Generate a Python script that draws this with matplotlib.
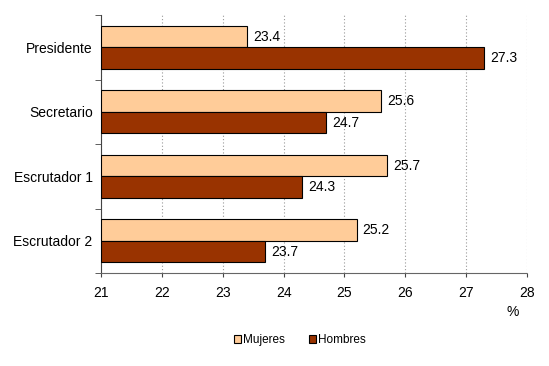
import numpy as np
import matplotlib.pyplot as plt

plt.rcParams['font.family'] = ['Liberation Sans', 'DejaVu Sans']
plt.rcParams['hatch.linewidth'] = 0.5

categorias = ["Presidente", "Secretario", "Escrutador 1", "Escrutador 2"]
mujeres = [23.4, 25.6, 25.7, 25.2]
hombres = [27.3, 24.7, 24.3, 23.7]
ticks_x = [21, 22, 23, 24, 25, 26, 27, 28]

col_m = "#FFCC99"
col_h = "#993300"

fig = plt.figure(figsize=(5.49, 3.66), dpi=100)
ax = fig.add_axes([0.184, 0.254, 0.776, 0.705])

y = np.arange(len(categorias))
h = 1 / 3

bm = ax.barh(y - h / 2, np.array(mujeres) - 21, left=21, height=h, color=col_m,
             edgecolor="black", linewidth=0.8, label="Mujeres", zorder=3)
bh = ax.barh(y + h / 2, np.array(hombres) - 21, left=21, height=h, color=col_h,
             edgecolor="black", linewidth=0.8, label="Hombres", zorder=3)

for yy, v in zip(y - h / 2, mujeres):
    ax.text(v + 0.1, yy, f"{v:.1f}", va="center", ha="left", fontsize=10)
for yy, v in zip(y + h / 2, hombres):
    ax.text(v + 0.1, yy, f"{v:.1f}", va="center", ha="left", fontsize=10)

ax.set_xlim(21, 28)
ax.set_ylim(3.5, -0.5)
ax.set_xticks(ticks_x)
ax.set_xticklabels([str(t) for t in ticks_x], fontsize=10)
ax.set_yticks(y)
ax.set_yticklabels(categorias, fontsize=10)
ax.tick_params(axis="y", length=0, pad=6)
ax.set_yticks(np.arange(-0.5, 4, 1), minor=True)
ax.tick_params(axis="y", which="minor", length=4, color="#444444")
ax.tick_params(axis="x", length=3, color="#444444", pad=6)

ax.grid(axis="x", color="#999999", linestyle=(0, (1, 2)), linewidth=0.8, zorder=0)
for s in ["top", "right"]:
    ax.spines[s].set_visible(False)
ax.spines["left"].set_color("#444444")
ax.spines["bottom"].set_color("#666666")
ax.spines["bottom"].set_linestyle((0, (2, 1)))

fig.text(513 / 549, 1 - 312 / 366, "%", fontsize=10, ha="center", va="center")

leg = fig.legend(handles=[bm, bh], labels=["Mujeres", "Hombres"], loc="center",
                 bbox_to_anchor=(300 / 549, 1 - 340 / 366), ncol=2, frameon=False,
                 fontsize=8.5, handlelength=0.6, handleheight=0.6, handletextpad=0.2,
                 columnspacing=2.0)

fig.savefig("out.png", dpi=100)
